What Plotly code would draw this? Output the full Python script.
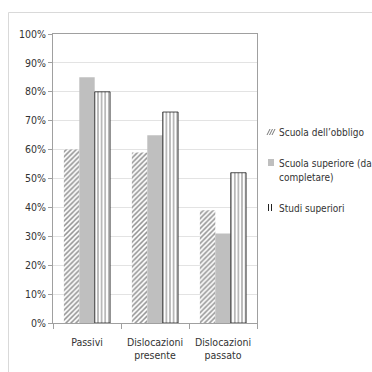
import plotly.graph_objects as go

categories = ["Passivi", "Dislocazioni<br>presente", "Dislocazioni<br>passato"]
series_names = ["Scuola dell’obbligo", "Scuola superiore (da<br>completare)", "Studi superiori"]
obbligo = [0.60, 0.59, 0.39]
superiore_da_completare = [0.85, 0.65, 0.31]
studi_superiori = [0.80, 0.73, 0.52]
y_ticks = [0, 0.1, 0.2, 0.3, 0.4, 0.5, 0.6, 0.7, 0.8, 0.9, 1.0]

FONT = "DejaVu Sans Condensed, Liberation Sans Narrow, Liberation Sans, sans-serif"
TEXT = "#333333"
W, H = 372, 372
L, R, T, B = 53, 115, 34, 49

fig = go.Figure()
fig.add_bar(
    x=categories, y=obbligo, name=series_names[0],
    marker=dict(color="white",
                pattern=dict(shape="/", fgcolor="#262626", bgcolor="white", size=3.5, solidity=0.45),
                line=dict(width=0)),
)
fig.add_bar(
    x=categories, y=superiore_da_completare, name=series_names[1],
    marker=dict(color="#bfbfbf", line=dict(width=0)),
)
fig.add_bar(
    x=categories, y=studi_superiori, name=series_names[2],
    marker=dict(color="white",
                pattern=dict(shape="|", fgcolor="#111111", bgcolor="white", size=3.6, solidity=0.3),
                line=dict(width=0.8, color="#222222")),
)


def px_x(v):
    return (v - L) / (W - L - R)


def px_y(v):
    return 1 - (v - T) / (H - T - B)


shapes = [
    # outer chart frame
    dict(type="rect", xref="paper", yref="paper",
         x0=px_x(8.5), x1=px_x(400), y0=px_y(12.5), y1=px_y(400),
         line=dict(color="#d9d9d9", width=1), layer="below"),
]

# legend keys
lx0, lx1 = px_x(268), px_x(274)
# hatched key
for off in (0, 2.5, 5):
    shapes.append(dict(type="line", xref="paper", yref="paper",
                       x0=px_x(267 + off), x1=px_x(270 + off), y0=px_y(135), y1=px_y(129),
                       line=dict(color="#555555", width=0.8)))
# gray key
shapes.append(dict(type="rect", xref="paper", yref="paper",
                   x0=lx0, x1=lx1, y0=px_y(166), y1=px_y(159),
                   fillcolor="#bfbfbf", line=dict(width=0)))
# striped key
for xx in (268.5, 271.5):
    shapes.append(dict(type="line", xref="paper", yref="paper",
                       x0=px_x(xx), x1=px_x(xx), y0=px_y(211), y1=px_y(204),
                       line=dict(color="#222222", width=1)))

legend_rows = [(series_names[0], 132), ("Scuola superiore (da", 163), ("completare)", 177), (series_names[2], 208)]
annotations = [
    dict(text=t, xref="paper", yref="paper", x=px_x(277), y=px_y(yy),
         xanchor="left", yanchor="middle", showarrow=False,
         font=dict(family=FONT, size=10, color=TEXT))
    for t, yy in legend_rows
]

fig.update_layout(
    width=W, height=H,
    margin=dict(l=L, r=R, t=T, b=B),
    paper_bgcolor="white", plot_bgcolor="white",
    barmode="group", bargap=0.32, bargroupgap=0,
    showlegend=False,
    font=dict(family=FONT, size=10.5, color=TEXT),
    shapes=shapes, annotations=annotations,
)
fig.update_xaxes(
    showline=True, linecolor="#a0a0a0", linewidth=1, mirror=True,
    ticks="outside", tickson="boundaries", ticklen=5, tickcolor="#a0a0a0",
    ticklabelstandoff=9,
    showgrid=False, tickfont=dict(family=FONT, size=10.5, color=TEXT),
)
fig.update_yaxes(
    range=[0, 1], tickvals=y_ticks, tickformat=".0%",
    showline=True, linecolor="#a0a0a0", linewidth=1, mirror=True,
    ticks="outside", ticklen=4, tickcolor="#a0a0a0",
    showgrid=True, gridcolor="#e3e3e3", gridwidth=1, zeroline=False,
    tickfont=dict(family=FONT, size=10.5, color=TEXT),
)

fig.write_html("out.html")
